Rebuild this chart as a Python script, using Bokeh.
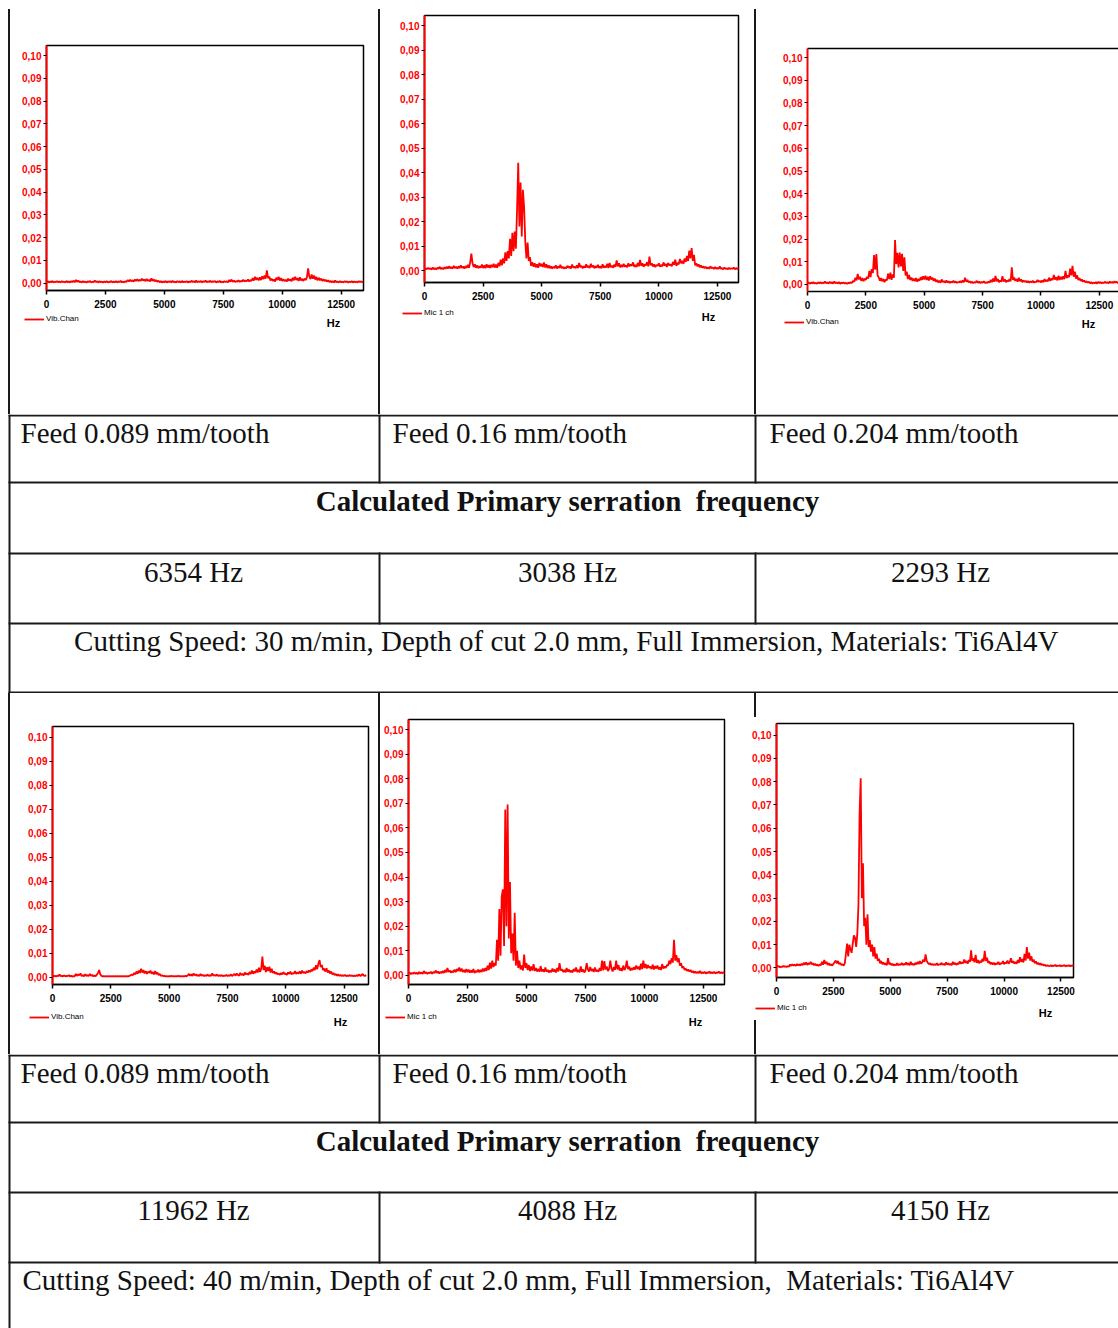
from bokeh.plotting import figure
from bokeh.layouts import row, column
from bokeh.models import (Range1d, FixedTicker, CustomJSTickFormatter, Label,
                          Legend, LegendItem, Spacer, LinearAxis)
from bokeh.core.properties import value
from bokeh.embed import file_html
from bokeh.resources import INLINE

# ---------------- data ----------------
freq_hz = list(range(0, 13500, 50))   # 50 Hz bins, 270 points

# amplitudes in units of 0.001
amp_v30_f089 = [
    0.5, 0.9, 0.3, 0.8, 0.4, 1.0, 0.3, 0.7, 0.5, 0.9,
    0.4, 0.8, 0.3, 0.9, 0.5, 0.7, 0.3, 1.0, 0.4, 0.8,
    0.3, 0.9, 0.5, 1.1, 0.4, 1.4, 0.6, 1.2, 0.4, 0.8,
    0.3, 0.9, 0.4, 0.7, 0.3, 0.8, 0.5, 1.0, 0.3, 0.7,
    0.4, 1.2, 0.5, 0.8, 0.3, 0.9, 0.4, 0.7, 0.3, 0.8,
    0.4, 0.9, 0.3, 0.7, 0.5, 1.0, 0.3, 0.8, 0.4, 0.9,
    0.3, 0.8, 0.5, 1.0, 0.4, 0.7, 0.3, 0.9, 0.6, 1.4,
    0.8, 1.5, 0.9, 1.3, 0.7, 1.6, 1.0, 1.8, 0.9, 1.5,
    1.1, 2.0, 1.2, 1.6, 0.9, 1.9, 1.0, 1.5, 0.8, 2.1,
    1.0, 1.7, 0.8, 1.4, 0.6, 1.1, 0.4, 0.9, 0.3, 0.8,
    0.4, 1.0, 0.3, 0.8, 0.5, 0.9, 0.3, 1.1, 0.4, 0.7,
    0.3, 0.9, 0.5, 0.8, 0.3, 1.0, 0.4, 0.7, 0.5, 0.9,
    0.3, 0.8, 0.4, 1.1, 0.5, 0.9, 0.3, 1.2, 0.4, 0.8,
    0.5, 1.0, 0.3, 0.9, 0.6, 1.2, 0.4, 0.8, 0.5, 1.1,
    0.4, 0.9, 0.6, 1.0, 0.3, 0.8, 0.5, 1.0, 0.4, 0.7,
    0.3, 0.9, 0.5, 0.8, 0.4, 1.4, 0.7, 1.6, 0.6, 1.2,
    0.5, 0.9, 0.7, 1.3, 0.6, 1.0, 0.8, 1.5, 0.7, 1.2,
    0.9, 1.6, 0.8, 1.4, 1.0, 2.2, 1.2, 2.8, 1.5, 2.4,
    1.2, 2.6, 1.4, 3.0, 1.8, 3.4, 2.0, 5.6, 2.2, 3.0,
    1.2, 2.0, 1.0, 1.6, 0.8, 2.4, 1.4, 2.8, 1.2, 2.2,
    1.0, 1.8, 0.9, 1.5, 0.8, 2.0, 1.1, 1.7, 0.9, 2.4,
    1.3, 2.8, 1.4, 2.2, 1.0, 2.6, 1.2, 1.9, 1.0, 2.0,
    1.4, 2.6, 6.5, 3.0, 1.8, 3.8, 2.0, 3.4, 1.6, 2.8,
    1.2, 2.4, 1.3, 2.0, 1.0, 1.8, 0.9, 1.5, 0.7, 1.3,
    0.5, 1.0, 0.4, 0.9, 0.3, 1.2, 0.4, 0.8, 0.3, 0.9,
    0.4, 0.7, 0.3, 0.9, 0.5, 0.8, 0.3, 0.7, 0.4, 0.9,
    0.3, 0.8, 0.4, 0.7, 0.3, 0.9, 0.5, 0.8, 0.4, 0.7]

amp_v30_f160 = [
    0.5, 1.0, 0.6, 1.2, 0.7, 1.0, 0.5, 1.3, 0.6, 1.1,
    0.5, 1.2, 0.8, 1.6, 0.7, 1.2, 0.6, 1.4, 0.8, 1.6,
    0.9, 1.8, 1.0, 1.5, 0.8, 2.0, 1.1, 1.6, 0.9, 1.8,
    1.0, 2.2, 1.2, 1.7, 0.9, 1.9, 1.1, 2.4, 1.2, 3.5,
    7.0, 3.0, 1.5, 2.6, 1.2, 2.2, 1.0, 1.8, 1.2, 2.5,
    1.1, 2.2, 1.0, 2.6, 1.3, 2.3, 1.1, 2.4, 1.4, 2.8,
    1.3, 2.5, 1.2, 3.2, 1.8, 4.5, 2.2, 5.0, 3.0, 7.5,
    4.0, 8.0, 5.0, 13.0, 6.0, 15.5, 8.0, 16.0, 9.0, 25.0,
    44.0, 18.0, 36.0, 14.0, 33.0, 26.0, 12.0, 5.0, 11.5, 4.0,
    5.5, 2.0, 3.5, 1.6, 3.0, 1.4, 2.6, 1.2, 3.2, 1.8,
    2.8, 1.5, 3.4, 1.3, 2.6, 1.1, 2.2, 1.0, 1.8, 0.9,
    1.6, 1.0, 2.2, 0.9, 1.8, 1.1, 2.4, 1.0, 1.6, 0.9,
    1.4, 1.0, 2.0, 1.2, 1.7, 0.9, 2.5, 1.3, 1.6, 1.0,
    2.2, 1.1, 3.2, 1.4, 2.0, 1.0, 1.8, 1.2, 2.6, 1.3,
    2.0, 1.1, 2.8, 1.4, 2.2, 1.0, 1.9, 1.2, 2.4, 1.1,
    1.8, 1.0, 2.6, 1.2, 1.9, 1.3, 2.8, 1.1, 3.2, 1.4,
    2.0, 1.2, 2.5, 1.6, 4.2, 1.8, 3.0, 1.4, 2.4, 1.5,
    2.8, 1.6, 2.2, 1.4, 3.0, 1.8, 2.6, 2.0, 3.4, 1.6,
    2.4, 1.5, 3.2, 1.8, 4.4, 2.0, 3.0, 1.6, 2.6, 2.2,
    3.5, 1.8, 5.8, 2.2, 3.0, 1.7, 2.6, 1.5, 2.4, 2.0,
    3.0, 1.6, 2.4, 1.8, 3.4, 2.0, 2.8, 1.6, 3.2, 2.2,
    2.6, 1.8, 3.6, 2.4, 4.5, 2.0, 3.2, 2.6, 4.8, 3.0,
    4.0, 2.8, 5.0, 3.6, 6.0, 4.0, 8.2, 5.0, 9.2, 4.0,
    6.5, 2.2, 3.0, 1.8, 2.6, 1.4, 2.2, 1.2, 1.8, 1.0,
    1.6, 0.9, 1.4, 0.8, 1.8, 1.0, 1.3, 0.7, 1.5, 0.8,
    1.2, 0.7, 1.8, 0.8, 1.1, 0.6, 1.3, 0.7, 1.0, 0.6,
    1.2, 0.7, 1.0, 0.8, 1.3, 0.6, 1.1, 0.7, 1.0, 0.8]

amp_v30_f204 = [
    0.4, 0.9, 0.3, 0.8, 0.5, 1.0, 0.4, 0.7, 0.3, 0.9,
    0.5, 1.1, 0.4, 0.8, 0.6, 1.3, 0.5, 0.9, 0.4, 1.2,
    0.5, 1.0, 0.4, 1.3, 0.6, 0.9, 0.4, 1.1, 0.3, 0.8,
    0.5, 0.9, 0.4, 0.7, 0.3, 0.8, 0.5, 1.0, 0.6, 1.6,
    1.2, 3.0, 1.8, 4.6, 2.2, 3.4, 1.6, 2.8, 1.5, 2.6,
    2.0, 3.4, 2.6, 6.0, 3.2, 6.8, 5.0, 13.0, 6.5, 13.4,
    4.0, 3.2, 1.6, 2.8, 1.4, 2.4, 1.0, 2.2, 1.8, 4.8,
    2.4, 5.2, 2.0, 4.4, 3.0, 19.6, 9.0, 14.0, 7.5, 14.1,
    8.0, 13.5, 6.0, 12.0, 4.0, 5.6, 2.4, 4.2, 2.0, 3.0,
    1.6, 2.6, 1.5, 2.8, 1.2, 2.4, 1.6, 3.2, 2.0, 3.6,
    2.2, 3.8, 2.0, 3.4, 1.8, 3.6, 2.2, 3.0, 1.6, 2.6,
    1.2, 2.0, 0.9, 1.6, 0.8, 2.2, 1.0, 1.5, 0.8, 1.8,
    0.8, 1.4, 0.7, 1.2, 0.9, 1.6, 0.8, 1.3, 0.7, 1.1,
    0.9, 1.5, 0.8, 1.8, 1.0, 3.0, 1.2, 2.0, 0.9, 1.4,
    0.7, 1.2, 0.6, 1.0, 0.8, 1.6, 0.7, 1.3, 0.6, 1.1,
    0.8, 1.4, 0.6, 1.0, 0.7, 1.2, 0.8, 2.0, 1.0, 2.6,
    1.2, 3.8, 1.4, 2.4, 1.0, 1.8, 1.2, 3.6, 1.3, 2.2,
    1.0, 1.8, 1.2, 2.4, 1.4, 7.5, 2.0, 3.0, 1.6, 2.4,
    1.2, 3.0, 1.4, 2.2, 1.0, 1.8, 1.1, 1.6, 0.9, 1.5,
    0.8, 1.4, 0.9, 1.6, 0.8, 1.2, 1.0, 2.0, 1.1, 1.6,
    0.9, 1.8, 1.0, 2.4, 1.3, 2.0, 1.4, 3.0, 1.6, 2.6,
    2.0, 4.2, 2.2, 3.2, 1.8, 3.8, 2.0, 3.4, 2.2, 3.6,
    2.4, 6.0, 2.8, 4.0, 3.2, 7.0, 4.0, 8.2, 3.4, 5.6,
    2.6, 4.0, 2.0, 2.8, 1.6, 2.2, 1.2, 1.8, 1.0, 1.4,
    0.8, 1.2, 0.5, 1.0, 0.4, 0.8, 0.5, 1.0, 0.4, 1.2,
    0.6, 1.1, 0.5, 0.8, 0.7, 1.2, 0.6, 1.0, 0.5, 1.3,
    0.7, 1.1, 0.6, 1.4, 0.8, 1.2, 0.6, 1.0, 0.7, 1.3]

amp_v40_f089 = [
    0.8, 0.4, 0.6, 0.3, 0.7, 0.4, 1.2, 0.5, 0.6, 0.4,
    0.8, 0.4, 0.6, 0.5, 0.9, 0.4, 0.6, 0.3, 0.5, 0.4,
    1.4, 0.6, 1.2, 0.8, 1.6, 0.5, 0.9, 0.4, 1.3, 0.6,
    0.9, 0.5, 1.4, 0.7, 1.0, 0.4, 0.7, 0.5, 1.1, 1.8,
    3.0, 1.2, 0.6, 0.4, 0.5, 0.4, 0.5, 0.4, 0.5, 0.4,
    0.5, 0.4, 0.5, 0.4, 0.5, 0.4, 0.5, 0.4, 0.5, 0.4,
    0.5, 0.4, 0.5, 0.4, 0.5, 0.4, 0.6, 0.8, 1.2, 0.9,
    1.8, 1.2, 2.4, 1.5, 2.8, 1.8, 3.6, 2.0, 3.0, 1.6,
    2.6, 1.4, 2.4, 1.8, 2.8, 1.5, 2.2, 1.2, 2.6, 1.3,
    2.0, 0.9, 1.4, 0.6, 0.8, 0.5, 0.6, 0.4, 0.5, 0.4,
    0.5, 0.4, 0.6, 0.4, 0.5, 0.4, 0.5, 0.4, 0.6, 0.4,
    0.5, 0.4, 0.5, 0.4, 0.6, 0.4, 0.8, 1.4, 0.7, 1.2,
    0.6, 1.6, 0.8, 1.2, 0.6, 1.0, 0.5, 1.4, 0.7, 1.0,
    0.5, 0.8, 0.6, 1.2, 0.5, 0.9, 0.6, 1.6, 0.7, 1.0,
    0.6, 1.2, 0.5, 0.8, 0.6, 0.9, 0.5, 0.7, 0.6, 1.0,
    0.5, 0.8, 0.6, 1.2, 0.5, 1.0, 1.4, 0.7, 1.6, 1.0,
    0.7, 1.8, 0.9, 1.4, 0.8, 2.0, 1.2, 1.6, 1.0, 2.2,
    1.4, 2.8, 1.5, 2.4, 1.8, 3.2, 2.0, 4.0, 2.2, 3.6,
    8.6, 3.0, 4.8, 2.2, 4.2, 2.6, 4.4, 2.0, 3.6, 1.8,
    2.4, 1.5, 2.0, 1.2, 1.6, 1.0, 1.8, 1.2, 2.2, 1.3,
    1.6, 1.0, 2.0, 1.4, 2.4, 1.2, 1.8, 1.5, 2.6, 1.4,
    2.0, 1.6, 2.4, 1.5, 2.8, 1.8, 2.2, 1.6, 2.6, 2.0,
    2.8, 2.2, 3.2, 2.6, 4.0, 3.0, 5.0, 3.4, 5.6, 7.2,
    4.2, 5.2, 3.0, 3.6, 2.4, 3.8, 2.0, 2.8, 1.6, 2.4,
    1.2, 1.8, 0.9, 1.4, 0.7, 1.2, 0.6, 1.0, 0.5, 0.8,
    0.6, 1.0, 0.5, 0.7, 0.6, 0.9, 0.5, 0.8, 0.4, 0.7,
    0.5, 0.9, 0.6, 1.2, 0.5, 0.8, 1.4, 0.7, 0.6, 0.9]

amp_v40_f160 = [
    0.6, 1.2, 0.5, 1.0, 0.7, 1.3, 0.6, 1.1, 0.5, 1.4,
    0.7, 1.2, 0.6, 1.8, 0.8, 1.3, 0.6, 1.2, 0.9, 1.5,
    0.7, 1.4, 0.9, 2.0, 1.0, 1.6, 0.8, 1.5, 0.9, 1.8,
    1.0, 2.2, 1.2, 3.0, 1.4, 2.0, 1.1, 1.8, 1.2, 2.4,
    1.3, 2.6, 1.8, 3.2, 1.6, 2.8, 1.4, 2.2, 1.2, 2.6,
    1.3, 2.4, 1.1, 2.0, 1.2, 2.6, 1.0, 1.8, 1.3, 2.4,
    1.2, 2.2, 1.4, 2.8, 1.6, 3.0, 1.8, 4.0, 2.2, 5.2,
    2.8, 6.0, 3.4, 5.0, 4.0, 14.5, 6.0, 27.0, 8.0, 32.0,
    35.0, 12.0, 67.5, 20.0, 69.5, 15.0, 38.0, 9.0, 17.0, 6.0,
    25.5, 4.0, 10.0, 3.0, 6.0, 2.4, 4.0, 2.0, 8.5, 3.0,
    5.0, 2.2, 4.2, 1.8, 3.6, 2.0, 4.6, 1.8, 3.0, 1.6,
    2.6, 1.5, 3.8, 1.6, 2.4, 1.4, 3.2, 1.5, 2.2, 1.2,
    2.0, 1.3, 2.8, 1.5, 2.4, 1.2, 3.0, 1.6, 5.0, 2.0,
    2.6, 1.4, 2.2, 1.2, 3.0, 1.5, 2.4, 1.3, 2.0, 1.2,
    2.6, 1.6, 3.2, 1.4, 2.2, 1.3, 3.6, 1.5, 2.4, 1.2,
    2.0, 5.0, 2.4, 1.6, 3.4, 1.8, 2.6, 1.4, 3.2, 1.6,
    2.2, 1.5, 3.0, 1.8, 6.0, 2.0, 5.8, 2.4, 3.6, 1.8,
    2.6, 6.0, 2.8, 1.6, 3.4, 2.2, 6.0, 2.4, 4.2, 2.0,
    3.0, 1.8, 4.0, 2.2, 3.2, 6.0, 2.6, 3.6, 2.0, 3.0,
    2.2, 3.4, 2.4, 4.0, 2.6, 3.6, 2.2, 4.8, 2.6, 6.0,
    3.0, 4.6, 2.8, 4.2, 3.0, 3.6, 2.6, 4.4, 2.4, 3.8,
    2.8, 4.0, 2.4, 3.4, 2.2, 4.6, 2.8, 3.6, 3.0, 4.2,
    4.0, 6.0, 4.6, 7.0, 5.2, 14.5, 6.0, 8.2, 5.4, 7.0,
    4.0, 5.0, 3.0, 3.6, 2.2, 2.8, 1.8, 2.4, 1.6, 2.2,
    1.2, 1.8, 1.0, 1.6, 0.9, 1.4, 1.0, 1.8, 0.8, 1.3,
    0.9, 1.5, 0.8, 1.2, 1.0, 1.6, 0.8, 1.3, 0.9, 1.5,
    0.8, 1.2, 1.0, 1.6, 0.9, 1.3, 0.8, 1.4, 1.0, 1.2]

amp_v40_f204 = [
    1.2, 0.5, 0.8, 0.3, 0.6, 0.4, 0.9, 0.5, 0.7, 0.4,
    0.8, 0.6, 1.5, 0.9, 1.6, 1.0, 1.4, 0.9, 1.7, 1.1,
    1.5, 1.0, 1.8, 1.2, 2.2, 1.4, 2.4, 1.3, 2.0, 1.6,
    2.6, 1.5, 2.0, 1.2, 1.8, 1.0, 1.5, 0.9, 1.4, 1.2,
    2.6, 1.4, 3.4, 1.8, 2.6, 1.3, 2.0, 1.1, 1.6, 1.0,
    1.8, 2.4, 3.2, 2.0, 3.0, 1.6, 2.2, 1.2, 1.6, 1.0,
    2.0, 6.0, 10.5, 5.0, 10.0, 8.0, 6.5, 10.5, 14.0, 13.0,
    9.0, 14.5, 27.0, 66.0, 81.5, 30.0, 45.0, 18.0, 21.5, 10.0,
    23.0, 9.0, 12.0, 7.0, 10.0, 5.0, 9.0, 4.0, 6.2, 3.0,
    4.0, 2.0, 3.0, 1.6, 2.4, 1.4, 2.0, 1.2, 4.2, 1.5,
    2.2, 1.2, 1.8, 1.0, 1.5, 1.2, 2.0, 1.1, 1.6, 1.3,
    2.2, 1.2, 1.8, 1.4, 2.4, 1.3, 2.0, 1.2, 2.6, 1.4,
    1.8, 1.2, 2.2, 1.5, 2.6, 1.6, 3.0, 1.8, 2.4, 3.6,
    2.6, 5.8, 3.0, 2.2, 1.6, 2.0, 1.3, 1.8, 1.2, 1.6,
    1.3, 2.0, 1.2, 1.6, 1.4, 2.2, 1.3, 1.8, 1.2, 2.4,
    1.4, 2.0, 1.3, 1.8, 1.2, 2.6, 1.5, 2.2, 1.3, 2.0,
    1.6, 2.8, 1.8, 2.4, 2.0, 3.6, 2.2, 3.0, 1.8, 3.4,
    2.6, 7.6, 3.0, 4.2, 2.4, 5.6, 2.2, 3.4, 2.0, 3.0,
    2.4, 4.0, 2.8, 7.3, 3.0, 4.4, 2.2, 2.8, 1.6, 2.4,
    1.5, 2.2, 1.4, 2.0, 1.6, 2.6, 1.4, 2.0, 1.8, 3.0,
    1.6, 2.4, 2.0, 3.2, 1.8, 2.6, 4.2, 2.2, 3.0, 1.8,
    2.6, 1.8, 3.4, 2.2, 4.6, 2.6, 3.8, 2.4, 6.0, 3.2,
    9.0, 4.0, 6.6, 3.2, 5.0, 2.6, 3.6, 2.0, 2.8, 1.6,
    2.2, 1.4, 2.0, 1.2, 1.6, 1.0, 1.4, 0.8, 1.2, 0.9,
    0.8, 1.2, 0.7, 1.0, 0.9, 1.3, 0.7, 1.1, 0.8, 1.2,
    0.7, 1.0, 0.9, 1.3, 0.6, 1.1, 0.8, 1.2, 0.7, 1.0,
    0.9, 1.3, 0.7, 1.1, 0.8, 1.2, 0.7, 1.0, 0.9, 1.2]

x_ticks = [0, 2500, 5000, 7500, 10000, 12500]
y_ticks_milli = [0, 10, 20, 30, 40, 50, 60, 70, 80, 90, 100]
legend_labels = ["Vib.Chan", "Mic 1 ch", "Vib.Chan", "Vib.Chan", "Mic 1 ch", "Mic 1 ch"]
axis_unit = "Hz"

feed_labels = ["Feed 0.089 mm/tooth", "Feed 0.16 mm/tooth", "Feed 0.204 mm/tooth"]
calc_title = "Calculated Primary serration\u00a0 frequency"
serration_30 = ["6354 Hz", "3038 Hz", "2293 Hz"]
serration_40 = ["11962 Hz", "4088 Hz", "4150 Hz"]
cond_30 = "Cutting Speed: 30 m/min, Depth of cut 2.0 mm, Full Immersion, Materials: Ti6Al4V"
cond_40 = "Cutting Speed: 40 m/min, Depth of cut 2.0 mm, Full Immersion,\u00a0 Materials: Ti6Al4V"

# ---------------- styling / layout ----------------
PAGE_W = 1118
LINE = "#1a1a1a"
RED = "#ff0000"
TICK_FONT = "Liberation Sans Narrow, Liberation Sans"
SERIF = "Liberation Serif"
TXT = "#111111"
TRACE_W = 1.8


def no_align(p):
    try:
        p.frame_align = False
    except Exception:
        pass
    return p


def bar(w, h, color):
    return Spacer(width=w, height=h, margin=0, styles={"background-color": color})


def blank_fig(w, h):
    p = figure(width=w, height=h, x_range=Range1d(0, w), y_range=Range1d(0, h),
               toolbar_location=None, output_backend="svg", title=None, min_border=0,
               x_axis_location=None, y_axis_location=None, outline_line_color=None,
               background_fill_color="white", border_fill_color="white")
    p.grid.visible = False
    return no_align(p)


def spectrum(amp, w, h, mb, xe, yr, outline=True):
    l, r, t, b = mb
    p = figure(width=w, height=h, x_range=Range1d(0, xe), y_range=Range1d(*yr),
               toolbar_location=None, output_backend="svg", title=None,
               min_border_left=l, min_border_right=r, min_border_top=t, min_border_bottom=b,
               background_fill_color="white", border_fill_color="white",
               outline_line_color="black" if outline else None, outline_line_width=1.5)
    no_align(p)
    p.grid.visible = False
    p.line(freq_hz, amp, line_color=RED, line_width=TRACE_W)

    xa = p.xaxis[0]
    xa.ticker = FixedTicker(ticks=x_ticks, minor_ticks=[])
    xa.axis_line_color = "black"
    xa.axis_line_width = 1.5
    xa.major_tick_line_color = "black"
    xa.major_tick_line_width = 1.5
    xa.major_tick_out = 4
    xa.major_tick_in = 0
    xa.minor_tick_line_color = None
    xa.major_label_text_font = TICK_FONT
    xa.major_label_text_font_size = "10px"
    xa.major_label_text_font_style = "bold"
    xa.major_label_text_color = "black"
    xa.major_label_standoff = 5

    ya = p.yaxis[0]
    ya.ticker = FixedTicker(ticks=y_ticks_milli, minor_ticks=[])
    ya.formatter = CustomJSTickFormatter(code="return (tick/1000).toFixed(2).replace('.', ',');")
    ya.axis_line_color = RED
    ya.axis_line_width = 2
    ya.major_tick_line_color = "black"
    ya.major_tick_line_width = 1
    ya.major_tick_out = 3
    ya.major_tick_in = 0
    ya.minor_tick_line_color = None
    ya.major_label_text_font = TICK_FONT
    ya.major_label_text_font_size = "10px"
    ya.major_label_text_font_style = "bold"
    ya.major_label_text_color = RED
    ya.major_label_standoff = 2

    if not outline:
        top = LinearAxis(ticker=FixedTicker(ticks=[], minor_ticks=[]),
                         axis_line_color="black", axis_line_width=1.5,
                         major_tick_line_color=None, minor_tick_line_color=None,
                         major_label_text_font_size="0px")
        p.add_layout(top, "above")
    return p


def legend_strip(w, h, label, lx, ly, hx, hy):
    p = blank_fig(w, h)
    # legend key renderer: no visible data, only provides the key style
    rend = p.line(x=[float("nan")], y=[float("nan")], line_color=RED, line_width=TRACE_W)
    lg = Legend(items=[LegendItem(label=value(label), renderers=[rend])],
                location=(lx, h - ly - 4), orientation="horizontal",
                label_text_font=TICK_FONT, label_text_font_size="8px",
                label_text_color="black", glyph_width=20, glyph_height=8,
                label_height=8, label_standoff=2, padding=0, margin=0, spacing=0,
                border_line_color=None, background_fill_alpha=0)
    p.add_layout(lg)
    p.add_layout(Label(x=hx, y=h - hy, x_units="screen", y_units="screen",
                       text=axis_unit, text_font=TICK_FONT, text_font_size="11px",
                       text_font_style="bold", text_color="black",
                       text_align="center", text_baseline="middle"))
    return p


def text_band(H, hlines, vspans, left_texts, center_texts, bold_texts):
    p = figure(width=PAGE_W, height=H, x_range=Range1d(0, PAGE_W), y_range=Range1d(H, 0),
               toolbar_location=None, output_backend="svg", title=None, min_border=0,
               x_axis_location=None, y_axis_location=None, outline_line_color=None,
               background_fill_color="white", border_fill_color="white")
    no_align(p)
    p.grid.visible = False
    p.quad(left=[8] * len(hlines), right=[PAGE_W] * len(hlines),
           top=hlines, bottom=[y + 2 for y in hlines], color=LINE, line_width=0)
    p.quad(left=[8], right=[10], top=[0], bottom=[H], color=LINE, line_width=0)
    for (y0, y1) in vspans:
        p.quad(left=[378, 754], right=[380, 756], top=[y0, y0], bottom=[y1, y1],
               color=LINE, line_width=0)
    for (xs, ys, ts) in left_texts:
        p.text(x=xs, y=ys, text=ts, text_font=value(SERIF), text_font_size="29px",
               text_align="left", text_baseline="alphabetic", text_color=TXT)
    for (xs, ys, ts) in center_texts:
        p.text(x=xs, y=ys, text=ts, text_font=value(SERIF), text_font_size="29px",
               text_align="center", text_baseline="alphabetic", text_color=TXT)
    for (xs, ys, ts) in bold_texts:
        p.text(x=xs, y=ys, text=ts, text_font=value(SERIF), text_font_size="29px",
               text_font_style="bold", text_align="center", text_baseline="alphabetic",
               text_color=TXT)
    return p


# top strip with the top rule
top_strip = figure(width=PAGE_W, height=9, x_range=Range1d(0, PAGE_W), y_range=Range1d(9, 0),
                   toolbar_location=None, output_backend="svg", title=None, min_border=0,
                   x_axis_location=None, y_axis_location=None, outline_line_color=None,
                   border_fill_color="white", background_fill_color="white")
no_align(top_strip)
top_strip.grid.visible = False
top_strip.quad(left=[8], right=[PAGE_W], top=[7], bottom=[9], color=LINE, line_width=0)

# plot row 1 (y 9..414)
H1 = 405
p1 = spectrum(amp_v30_f089, 368, 304, (36, 15, 36, 23), 13450, (-3.2, 104.4))
l1 = legend_strip(368, 101, legend_labels[0], 14, 6, 323, 9)
p2 = spectrum(amp_v30_f160, 374, 296, (44, 16, 6, 23), 13400, (-4.8, 104.1))
l2 = legend_strip(374, 109, legend_labels[1], 22, 8, 328, 11)
p3 = spectrum(amp_v30_f204, 362, 305, (51, 0, 39, 23), 13320, (-3.1, 104.0), outline=False)
l3 = legend_strip(362, 100, legend_labels[2], 28, 8, 332, 9)
row1 = row(bar(8, H1, "white"), bar(2, H1, LINE), column(p1, l1, spacing=0),
           bar(2, H1, LINE), column(p2, l2, spacing=0),
           bar(2, H1, LINE), column(p3, l3, spacing=0), spacing=0)

# text band 1 (y 414..693)
band1 = text_band(279, [0, 67, 138, 208, 277], [(0, 69), (138, 210)],
                  left_texts=[([20, 392, 769], [18, 18, 18], feed_labels)],
                  center_texts=[([193, 567, 940], [157, 157, 157], serration_30),
                                ([566], [226], [cond_30])],
                  bold_texts=[([567], [86], [calc_title])])

# plot row 2 (y 693..1054)
H2 = 361
p4 = spectrum(amp_v40_f089, 368, 314, (42, 10, 33, 23), 13550, (-3.0, 104.5))
l4 = legend_strip(368, 47, legend_labels[3], 19, 10, 330, 14)
p5 = spectrum(amp_v40_f160, 362, 314, (28, 18, 26, 23), 13390, (-3.7, 104.1))
l5 = legend_strip(362, 47, legend_labels[4], 5, 10, 315, 14)
p6 = spectrum(amp_v40_f204, 376, 283, (34, 45, 6, 23), 13050, (-4.1, 105.0))
l6 = legend_strip(376, 20, legend_labels[5], 13, 8, 303, 12)
cell6 = column(row(bar(12, 24, "white"), bar(2, 24, LINE), bar(362, 24, "white"), spacing=0),
               p6, l6,
               row(bar(12, 34, "white"), bar(2, 34, LINE), bar(362, 34, "white"), spacing=0),
               spacing=0)
row2 = row(bar(8, H2, "white"), bar(2, H2, LINE), column(p4, l4, spacing=0),
           bar(2, H2, LINE), column(p5, l5, spacing=0), cell6, spacing=0)

# text band 2 (y 1054..1328)
band2 = text_band(274, [0, 67, 137, 207], [(0, 69), (137, 209)],
                  left_texts=[([20, 392, 769], [18, 18, 18], feed_labels),
                              ([22], [225], [cond_40])],
                  center_texts=[([193, 567, 940], [155, 155, 155], serration_40)],
                  bold_texts=[([567], [86], [calc_title])])

layout = column(top_strip, row1, band1, row2, band2, spacing=0)

open("out.html", "w").write(file_html(layout, INLINE))
